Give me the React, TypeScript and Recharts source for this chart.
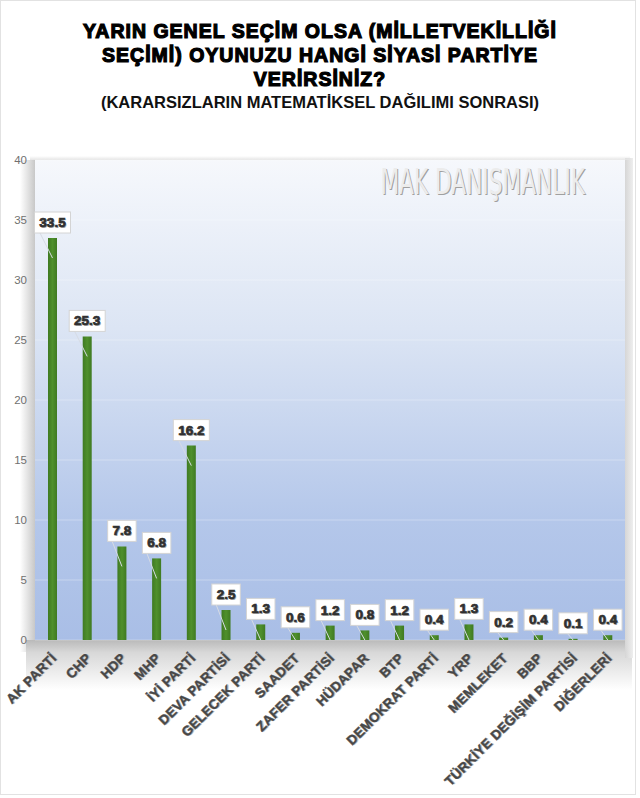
import { BarChart, Bar, XAxis, YAxis, CartesianGrid, LabelList } from 'recharts'

const parties = [
  'AK PARTİ', 'CHP', 'HDP', 'MHP', 'İYİ PARTİ', 'DEVA PARTİSİ', 'GELECEK PARTİ', 'SAADET',
  'ZAFER PARTİSİ', 'HÜDAPAR', 'BTP', 'DEMOKRAT PARTİ', 'YRP', 'MEMLEKET', 'BBP',
  'TÜRKİYE DEĞİŞİM PARTİSİ', 'DİĞERLERİ',
]
const votes = [33.5, 25.3, 7.8, 6.8, 16.2, 2.5, 1.3, 0.6, 1.2, 0.8, 1.2, 0.4, 1.3, 0.2, 0.4, 0.1, 0.4]
const yTicks = [0, 5, 10, 15, 20, 25, 30, 35, 40]

const titleLines = ['YARIN GENEL SEÇİM OLSA (MİLLETVEKİLLİĞİ', 'SEÇİMİ) OYUNUZU HANGİ SİYASİ PARTİYE', 'VERİRSİNİZ?']
const subtitle = '(KARARSIZLARIN MATEMATİKSEL DAĞILIMI SONRASI)'
const watermark = 'MAK DANIŞMANLIK'

const data = parties.map((name, i) => ({ name, value: votes[i] }))

const PLOT_BOTTOM = 640
const FONT = 'Liberation Sans, Arial, sans-serif'
const NARROW = 'Liberation Sans Narrow, DejaVu Sans Condensed, sans-serif'

function ValueLabel(props: any) {
  const { x = 0, y = 0, width = 0, value } = props
  const text = String(value)
  const cx = x + width / 2
  const w = text.length * 7.5 + 6
  const h = 21
  const top = y - 5 - h
  const left = cx - w / 2
  const endY = Math.min(y + 20, PLOT_BOTTOM)
  return (
    <g>
      <line x1={left + 1} y1={top + 12} x2={cx} y2={endY} stroke="#d6dbe4" strokeWidth={1} />
      <rect x={left} y={top} width={w} height={h} fill="#ffffff" stroke="#d4d4d4" strokeWidth={1} />
      <text x={cx + 1} y={top + 16} textAnchor="middle" fontSize={13.5} fontWeight={700}
        fontFamily={FONT} fill="#aaaaaa">{text}</text>
      <text x={cx} y={top + 15} textAnchor="middle" fontSize={13.5} fontWeight={700}
        fontFamily={FONT} fill="#303030" stroke="#303030" strokeWidth={0.7}>{text}</text>
    </g>
  )
}

function PartyTick(props: any) {
  const { x = 0, payload } = props
  const tx = x + 5
  const ty = PLOT_BOTTOM + 19
  return (
    <g transform={`translate(${tx},${ty}) rotate(-45)`}>
      <text x={1} y={1} textAnchor="end" fontSize={13.5} fontWeight={700} letterSpacing={0.2}
        fontFamily={FONT} fill="#c0c0c0">{payload.value}</text>
      <text x={0} y={0} textAnchor="end" fontSize={13.5} fontWeight={700} letterSpacing={0.2}
        fontFamily={FONT} fill="#474747" stroke="#474747" strokeWidth={0.4}>{payload.value}</text>
    </g>
  )
}

export default function App() {
  return (
    <div style={{ position: 'absolute', left: 0, top: 0, width: 640, height: 798, background: '#ffffff', overflow: 'hidden' }}>
      {/* frame */}
      <div style={{ position: 'absolute', left: 0, top: 0, width: 636, height: 795, border: '1px solid #e2e2e2', boxSizing: 'border-box' }} />
      <div style={{ position: 'absolute', left: 0, top: 19, width: 640, textAlign: 'center', fontFamily: FONT }}>
        {titleLines.map((t) => (
          <div key={t} style={{ fontSize: 19.5, fontWeight: 900, lineHeight: '24px', color: '#000', WebkitTextStroke: '1.2px #000', letterSpacing: 1 }}>{t}</div>
        ))}
        <div style={{ fontSize: 16.5, fontWeight: 700, lineHeight: '22px', color: '#111' }}>{subtitle}</div>
      </div>
      {/* plot shadows */}
      <div style={{ position: 'absolute', left: 20, top: 160, width: 16, height: 492, background: 'linear-gradient(to left, #c4c4c4, rgba(255,255,255,0))' }} />
      <div style={{ position: 'absolute', left: 26, top: 640, width: 606, height: 50, background: 'linear-gradient(to bottom, #b9b9b9 0%, #d8d8d8 25%, rgba(255,255,255,0) 100%)' }} />
      <div style={{ position: 'absolute', left: 625, top: 158, width: 8, height: 500, background: 'linear-gradient(to right, #d6d6d6, #eeeeee)' }} />
      <div style={{ position: 'absolute', left: 30, top: 156, width: 600, height: 4, background: 'linear-gradient(to bottom, rgba(255,255,255,0), #e4e4e4)' }} />
      <div style={{ position: 'absolute', left: 0, top: 0 }}>
        <BarChart width={640} height={798} data={data} margin={{ top: 160, right: 15, bottom: 8, left: 0 }} barCategoryGap={0}>
          <defs>
            <linearGradient id="plotBg" x1="0" y1="0" x2="0" y2="1">
              <stop offset="0%" stopColor="#f6f8fc" />
              <stop offset="35%" stopColor="#dce5f4" />
              <stop offset="75%" stopColor="#b4c7ea" />
              <stop offset="100%" stopColor="#a9bee6" />
            </linearGradient>
            <linearGradient id="barFill" x1="0" y1="0" x2="1" y2="0">
              <stop offset="0%" stopColor="#3f7a22" />
              <stop offset="50%" stopColor="#4f902c" />
              <stop offset="100%" stopColor="#3f7a22" />
            </linearGradient>
          </defs>
          <CartesianGrid vertical={false} fill="url(#plotBg)" fillOpacity={1} stroke="#ffffff" strokeOpacity={0.3} />
          <XAxis dataKey="name" interval={0} axisLine={false} tickLine={false} height={150} tick={<PartyTick />} />
          <YAxis domain={[0, 40]} ticks={yTicks} width={35} axisLine={false} tickLine={false}
            tick={{ fontSize: 11.5, fill: '#707070', fontFamily: FONT }} tickMargin={2} />
          <Bar dataKey="value" fill="url(#barFill)" barSize={9} isAnimationActive={false}>
            <LabelList dataKey="value" content={<ValueLabel />} />
          </Bar>
          <g transform="translate(586,195) scale(0.67,1)">
            <text x={0} y={0} textAnchor="end" fontSize={36} fontFamily={NARROW} fill="#a0a0a0">{watermark}</text>
          </g>
          <g transform="translate(585,194) scale(0.67,1)">
            <text x={0} y={0} textAnchor="end" fontSize={36} fontFamily={NARROW} fill="#ececec">{watermark}</text>
          </g>
        </BarChart>
      </div>
    </div>
  )
}
